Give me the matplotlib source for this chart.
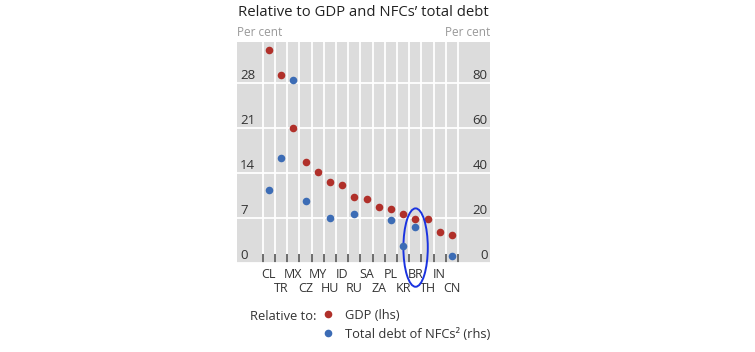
import matplotlib
matplotlib.use("Agg")
import matplotlib.pyplot as plt
from matplotlib.lines import Line2D
from matplotlib.patches import Ellipse
import matplotlib.transforms as mtransforms
import numpy as np

plt.rcParams['font.family'] = ['Open Sans', 'DejaVu Sans']

categories = ['CL', 'TR', 'MX', 'CZ', 'MY', 'HU', 'ID', 'RU',
              'SA', 'ZA', 'PL', 'KR', 'BR', 'TH', 'IN', 'CN']
gdp_lhs = [33.2, 29.2, 21.0, 15.7, 14.1, 12.6, 12.1, 10.3,
           9.9, 8.7, 8.35, 7.6, 6.9, 6.8, 4.9, 4.3]
nfc_debt_rhs = [32.6, 46.5, 81.5, 27.7, None, 19.9, None, 21.9,
                None, None, 19.1, 7.4, 16.0, None, None, 3.1]
left_ticks = [0, 7, 14, 21, 28]
right_ticks = [0, 20, 40, 60, 80]

RED = '#b0302a'
BLUE = '#3c6cb5'
BG = '#dcdcdc'
TXT = '#333333'

W, H = 755, 352
fig = plt.figure(figsize=(W / 100, H / 100), dpi=100)

x0, x1, ytop, ybot = 237, 490, 42, 263
ax = fig.add_axes([x0 / W, 1 - ybot / H, (x1 - x0) / W, (ybot - ytop) / H])
ax.set_facecolor(BG)
for s in ax.spines.values():
    s.set_visible(False)

n = len(categories)
idx = np.arange(n)
ax.set_xlim(-2.62, 18.12)
ax.set_ylim(0, 34.4)

# category boundaries: white gridlines + dark ticks
bounds = np.arange(n + 1) - 0.5
ax.set_xticks(bounds, minor=True)
ax.set_xticks(idx)
ax.set_xticklabels([])
ax.tick_params(axis='x', which='major', length=0)
ax.tick_params(axis='x', which='minor', direction='in', length=6.5, width=1.2,
               color='#555555')
ax.set_yticks(left_ticks)
ax.tick_params(axis='y', length=0, labelleft=False)
ax.grid(True, axis='x', which='minor', color='white', linewidth=1.3)
ax.grid(True, axis='y', which='major', color='white', linewidth=1.3)
ax.set_axisbelow(True)

# category labels in two staggered rows
for i, c in enumerate(categories):
    dy = -12 if i % 2 == 0 else -26
    tt = mtransforms.offset_copy(
        mtransforms.blended_transform_factory(ax.transData, ax.transAxes),
        fig=fig, x=0, y=dy * 0.72, units='points')
    ax.text(i, 0, c, transform=tt, ha='center', va='center', fontsize=9,
            color=TXT)

ax.scatter(idx, gdp_lhs, s=30, color=RED, zorder=3, linewidths=0)

ax2 = ax.twinx()
for s in ax2.spines.values():
    s.set_visible(False)
ax2.set_ylim(0, 34.4 * 20 / 7)
ax2.set_yticks([])
bx = [i for i, v in enumerate(nfc_debt_rhs) if v is not None]
by = [v for v in nfc_debt_rhs if v is not None]
ax2.scatter(bx, by, s=30, color=BLUE, zorder=3, linewidths=0)

# y tick labels inside the plot, sitting above their gridlines
offset = mtransforms.offset_copy(ax.transData, fig=fig, x=0, y=1.0, units='points')
tl = mtransforms.blended_transform_factory(ax.transAxes, offset)
for t in left_ticks:
    ax.text(0.012, t, str(t), transform=tl, ha='left', va='bottom',
            fontsize=9.5, color=TXT)
offset2 = mtransforms.offset_copy(ax2.transData, fig=fig, x=0, y=1.0, units='points')
tr = mtransforms.blended_transform_factory(ax2.transAxes, offset2)
for t in right_ticks:
    ax2.text(0.99, t, str(t), transform=tr, ha='right', va='bottom',
             fontsize=9.5, color=TXT)

# hand-drawn style highlight around BR
br = categories.index('BR')
ell = Ellipse((br + 0.02, 2.4), width=2.0, height=12.2, angle=0,
              fill=False, edgecolor='#1a33e0', linewidth=1.4,
              clip_on=False, zorder=5)
ax.add_patch(ell)

fig.text(x0 / W + 0.001, 1 - 13 / H, "Relative to GDP and NFCs\u2019 total debt",
         fontsize=10.7, color='#222222', ha='left', va='center')
fig.text(x0 / W, 1 - 33 / H, "Per cent", fontsize=8.5, color='#999999',
         ha='left', va='center')
fig.text(x1 / W, 1 - 33 / H, "Per cent", fontsize=8.5, color='#999999',
         ha='right', va='center')

fig.text(250 / W, 1 - 317 / H, "Relative to:", fontsize=9.3, color=TXT,
         ha='left', va='center')
handles = [Line2D([], [], marker='o', linestyle='none', color=RED, markersize=5.5,
                  markeredgewidth=0),
           Line2D([], [], marker='o', linestyle='none', color=BLUE, markersize=5.5,
                  markeredgewidth=0)]
fig.legend(handles, ['GDP (lhs)', 'Total debt of NFCs\u00b2 (rhs)'],
           loc='upper left', bbox_to_anchor=(322 / W, 1 - 309 / H),
           frameon=False, fontsize=9.3, handlelength=1.0, handletextpad=0.75,
           labelspacing=0.45, borderaxespad=0, borderpad=0,
           labelcolor=TXT)

fig.savefig('out.png', dpi=100)
